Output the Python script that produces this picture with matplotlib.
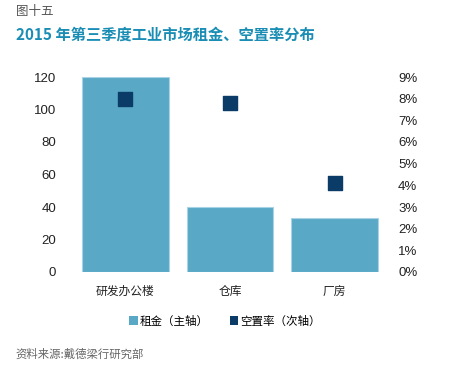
import matplotlib
matplotlib.use("Agg")
from matplotlib import pyplot as plt
from matplotlib.patches import Patch
from matplotlib.ticker import PercentFormatter

plt.rcParams['font.family'] = ['Liberation Sans', 'Noto Sans CJK SC', 'DejaVu Sans']

# data
categories = ["研发办公楼", "仓库", "厂房"]
rent = [120, 40, 33]                 # 租金（主轴）
vacancy = [8.0, 7.8, 4.1]            # 空置率（次轴）, %
left_ticks = [0, 20, 40, 60, 80, 100, 120]
right_ticks = list(range(0, 10))
legend_labels = ["租金（主轴）", "空置率（次轴）"]

bar_color = "#59A9C6"
dot_color = "#0B3C68"
cjk = ['Noto Sans CJK SC', 'DejaVu Sans']

fig = plt.figure(figsize=(4.6, 3.67), dpi=100)
ax = fig.add_axes([73/460, 1 - 272/367, 314/460, 195/367])

x = range(len(categories))
ax.bar(x, rent, width=0.83, color=bar_color, edgecolor="#A9D3E4", linewidth=0.8)
ax.set_xlim(-0.5, 2.5)
ax.set_ylim(0, 120)
ax.set_yticks(left_ticks)
ax.set_xticks(list(x))
ax.set_xticklabels(categories, family=cjk, fontsize=8.5)
ax.tick_params(axis='y', length=0, pad=12, labelsize=9.5, labelcolor="#222222")
ax.tick_params(axis='x', length=0, pad=9, labelcolor="#222222")
for s in ax.spines.values():
    s.set_visible(False)

ax2 = ax.twinx()
ax2.scatter(list(x), vacancy, marker='s', s=88, color=dot_color, zorder=3)
ax2.set_ylim(0, 9)
ax2.set_yticks(right_ticks)
ax2.yaxis.set_major_formatter(PercentFormatter(decimals=0))
ax2.tick_params(axis='y', length=0, pad=8, labelsize=9.5, labelcolor="#222222")
for s in ax2.spines.values():
    s.set_visible(False)

handles = [Patch(facecolor=bar_color, edgecolor='none'),
           Patch(facecolor=dot_color, edgecolor='none')]
fig.legend(handles, legend_labels, loc='center', bbox_to_anchor=(225/460, 1 - 321/367),
           ncol=2, frameon=False, prop={'family': cjk, 'size': 8.3},
           handlelength=0.75, handleheight=0.75, handletextpad=0.2, columnspacing=1.8)

fig.text(16/460, 1 - 12/367, "图十五", family=cjk, fontsize=9, color="#555555", va='center')
fig.text(16/460, 1 - 35/367, "2015 年第三季度工业市场租金、空置率分布", family=cjk,
         fontsize=11, fontweight='bold', color="#1A8DB5", va='center')
fig.text(15/460, 1 - 354/367, "资料来源:戴德梁行研究部", family=cjk, fontsize=8.2,
         style='italic', color="#666666", va='center')

fig.savefig("out.png", dpi=100)
